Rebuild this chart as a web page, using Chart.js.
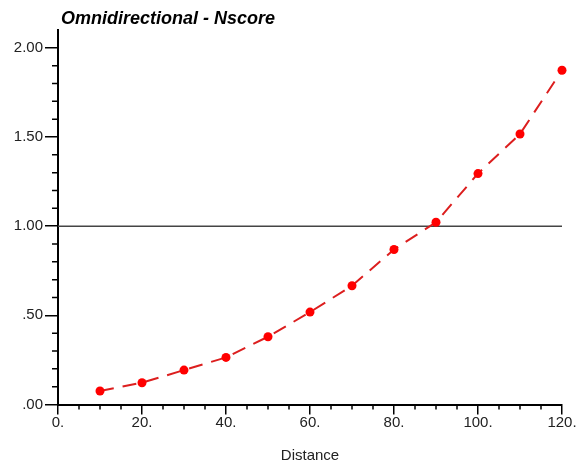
<!DOCTYPE html>
<html lang="en">
<head>
    <meta charset="UTF-8">
    <title>Omnidirectional - Nscore</title>
    <style>
        html, body {
            margin: 0;
            padding: 0;
            background: #fff;
        }
        #wrap {
            width: 576px;
            height: 464px;
        }
    </style>
    <script src="https://cdn.jsdelivr.net/npm/chart.js"></script>
</head>
<body>
<div id="wrap"><canvas id="chart" width="576" height="464"></canvas></div>

<script>
    // variogram values
    const distance = [10, 20, 30, 40, 50, 60, 70, 80, 90, 100, 110, 120];
    const nscore   = [0.076, 0.122, 0.193, 0.264, 0.380, 0.518, 0.666, 0.869, 1.022, 1.295, 1.517, 1.874];

    const xTicks = [0, 20, 40, 60, 80, 100, 120];
    const yTicks = [0, 0.5, 1.0, 1.5, 2.0];
    const sillLevel = 1.0; // horizontal reference line

    const titleText = 'Omnidirectional - Nscore';
    const xTitle = 'Distance';

    // minor tick marks along both axes
    const minorTicks = {
        id: 'minorTicks',
        afterDraw(chart) {
            const ctx = chart.ctx;
            const xs = chart.scales.x, ys = chart.scales.y;
            const area = chart.chartArea;
            ctx.save();
            ctx.strokeStyle = '#000';
            ctx.lineWidth = 1.5;
            ctx.beginPath();
            for (let v = 5; v < xs.max; v += 5) {
                if (v % 20 === 0) continue;
                const px = xs.getPixelForValue(v);
                ctx.moveTo(px, area.bottom);
                ctx.lineTo(px, area.bottom + 5);
            }
            for (let i = 1; i < 21; i++) {
                if (i % 5 === 0) continue;
                const py = ys.getPixelForValue(i / 10);
                ctx.moveTo(area.left - 6, py);
                ctx.lineTo(area.left, py);
            }
            ctx.stroke();
            ctx.restore();
        }
    };

    // title placed just right of the y axis
    const topTitle = {
        id: 'topTitle',
        afterDraw(chart) {
            const ctx = chart.ctx;
            ctx.save();
            ctx.font = 'italic bold 18px "Liberation Sans", Arial, sans-serif';
            ctx.fillStyle = '#000';
            ctx.textBaseline = 'alphabetic';
            ctx.fillText(titleText, chart.chartArea.left + 3, 24);
            ctx.restore();
        }
    };

    const points = distance.map((d, i) => ({ x: d, y: nscore[i] }));
    const sillLine = [
        { x: xTicks[0], y: sillLevel },
        { x: xTicks[xTicks.length - 1], y: sillLevel }
    ];

    new Chart(document.getElementById('chart').getContext('2d'), {
        type: 'scatter',
        data: {
            datasets: [
                {
                    label: 'Nscore',
                    data: points,
                    showLine: true,
                    borderColor: '#dc1e1e',
                    borderWidth: 2,
                    borderDash: [14, 9],
                    tension: 0,
                    pointRadius: 4.5,
                    pointBackgroundColor: '#ff0000',
                    pointBorderColor: '#ff0000',
                    pointBorderWidth: 0,
                    clip: false
                },
                {
                    label: 'sill',
                    data: sillLine,
                    showLine: true,
                    borderColor: '#444',
                    borderWidth: 1.5,
                    pointRadius: 0
                }
            ]
        },
        options: {
            responsive: false,
            animation: false,
            layout: {
                padding: { top: 30, right: 14, left: 0, bottom: 0 }
            },
            plugins: {
                legend: { display: false },
                title: { display: false },
                tooltip: { enabled: false }
            },
            scales: {
                x: {
                    type: 'linear',
                    min: 0,
                    max: 120,
                    afterFit: s => { s.height = 59.5; },
                    afterBuildTicks: s => { s.ticks = xTicks.map(v => ({ value: v })); },
                    border: { display: true, color: '#000', width: 2 },
                    grid: {
                        drawOnChartArea: false,
                        drawTicks: true,
                        tickLength: 10,
                        color: '#000',
                        lineWidth: 1.5
                    },
                    ticks: {
                        padding: -1,
                        maxRotation: 0,
                        color: '#222',
                        font: { family: '"Liberation Sans", Arial, sans-serif', size: 15 },
                        callback: v => v + '.'
                    },
                    title: {
                        display: true,
                        text: xTitle,
                        color: '#222',
                        padding: { top: 0, bottom: 0 },
                        font: { family: '"Liberation Sans", Arial, sans-serif', size: 15, lineHeight: 1.1 }
                    }
                },
                y: {
                    type: 'linear',
                    min: 0,
                    max: 2.1,
                    afterFit: s => { s.width = 58; },
                    afterBuildTicks: s => { s.ticks = yTicks.map(v => ({ value: v })); },
                    border: { display: true, color: '#000', width: 2 },
                    grid: {
                        drawOnChartArea: false,
                        drawTicks: true,
                        tickLength: 13,
                        color: '#000',
                        lineWidth: 1.5
                    },
                    ticks: {
                        padding: 2,
                        color: '#222',
                        font: { family: '"Liberation Sans", Arial, sans-serif', size: 15 },
                        callback: v => v.toFixed(2).replace(/^0/, '')
                    }
                }
            }
        },
        plugins: [minorTicks, topTitle]
    });
</script>
</body>
</html>
